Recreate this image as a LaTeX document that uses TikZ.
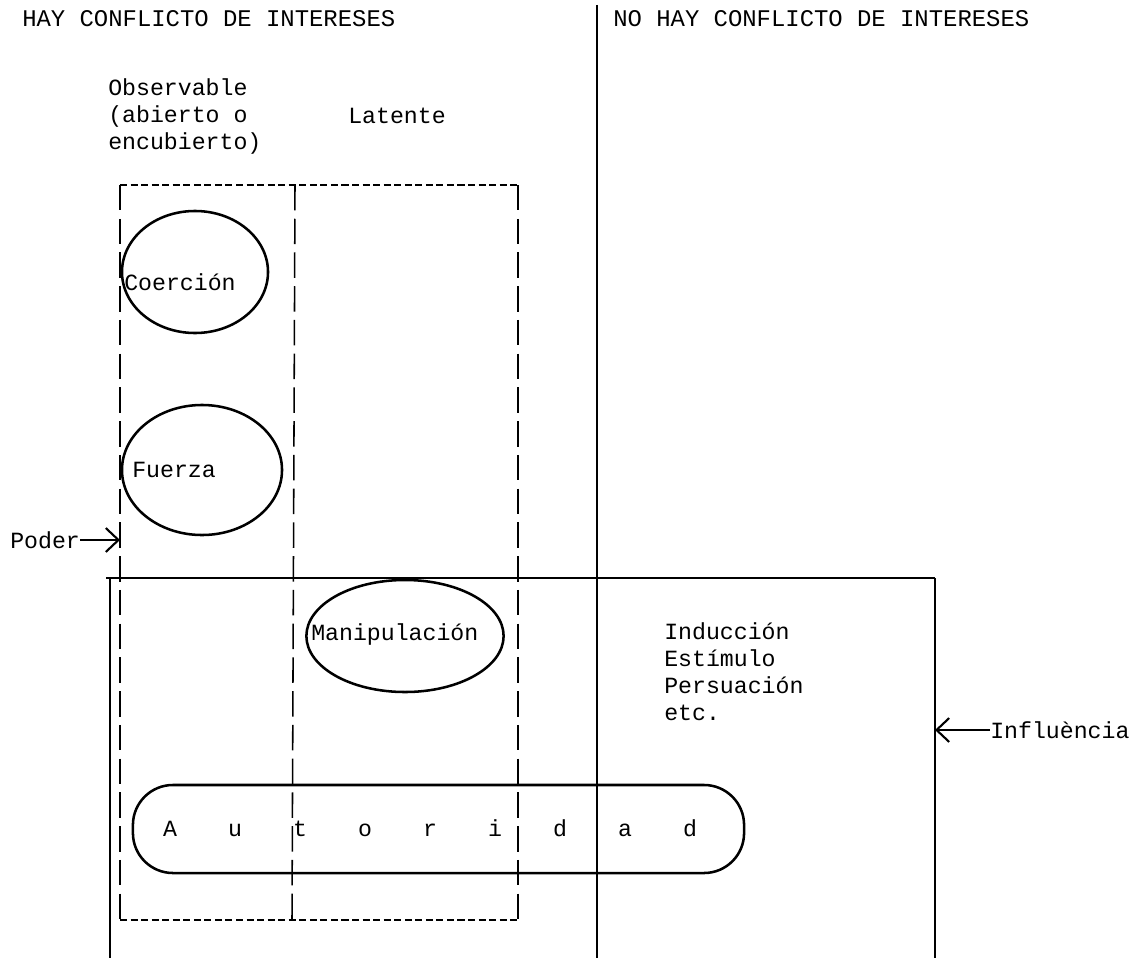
\documentclass[tikz,border=0pt]{standalone}
\usepackage{fontspec}
\newfontfamily\dotfont{Liberation Mono}
\usetikzlibrary{shapes.geometric,arrows.meta}

\begin{document}
\begin{tikzpicture}[x=0.025cm, y=-0.025cm,
  txt/.style={font=\dotfont\fontsize{16.5}{19.2}\selectfont, inner sep=0pt, align=left},
  blob/.style={draw, ellipse, line width=1.8pt, inner sep=0pt},
  solidline/.style={line width=1.5pt},
  vdash/.style={line width=1.1pt, dash pattern=on 18pt off 6pt},
  hdash/.style={line width=1.1pt, dash pattern=on 5pt off 2.5pt},
  handarrow/.style={-{Straight Barb[length=9pt, width=17pt, line width=1.5pt]}, line width=1.5pt}]
\useasboundingbox (0,0) rectangle (1131,959);

% headings
\node[txt, anchor=base west, font=\dotfont\fontsize{17}{20}\selectfont] (hay) at (22,27) {HAY CONFLICTO DE INTERESES};
\node[txt, anchor=base west, font=\dotfont\fontsize{17}{20}\selectfont] (nohay) at (613,27) {NO HAY CONFLICTO DE INTERESES};
\node[txt, anchor=north west] (observable) at (108,78) {Observable\\(abierto o\\encubierto)};
\node[txt, anchor=base west] (latente) at (348,123) {Latente};

% solid frame
\draw[solidline] (597,5) -- (597,958);
\draw[solidline] (106,578) -- (935,578);
\draw[solidline] (110,578) -- (110,958);
\draw[solidline] (935,578) -- (935,958);

% dashed columns
\draw[hdash] (120,185) -- (518,185);
\draw[hdash] (120,920) -- (518,920);
\draw[vdash] (120,185) -- (120,920);
\draw[vdash] (295,185) -- (292,920);
\draw[vdash] (518,185) -- (518,920);

% forms of power
\node[blob, minimum width=3.65cm, minimum height=3.05cm] (coercion) at (195,272) {};
\node[txt, anchor=west] (coercion text) at (124,282) {Coerción};
\node[blob, minimum width=4cm, minimum height=3.25cm] (fuerza) at (202,470) {};
\node[txt, anchor=west] (fuerza text) at (132,470) {Fuerza};
\node[blob, minimum width=4.93cm, minimum height=2.8cm] (manip) at (405,636) {};
\node[txt, anchor=west] (manip text) at (311,634) {Manipulación};
\node[txt, anchor=north west] (otras) at (664,622) {Inducción\\Estímulo\\Persuación\\etc.};

\node[draw, rounded corners=1cm, line width=1.8pt, minimum width=15.275cm, minimum height=2.2cm] (autoridad) at (438.5,829) {};
\foreach \ch [count=\i] in {A,u,t,o,r,i,d,a,d}
  \node[txt, anchor=base] (aut \i) at ({105+65*\i},836) {\ch};

% labels with arrows
\node[txt, anchor=west] (poder) at (10,540) {Poder};
\coordinate (poder tip) at (120,540);
\draw[handarrow] (poder) -- (poder tip);
\node[txt, anchor=west] (influencia) at (990,730) {Influència};
\coordinate (influencia tip) at (935,730);
\draw[handarrow] (influencia) -- (influencia tip);
\end{tikzpicture}
\end{document}
